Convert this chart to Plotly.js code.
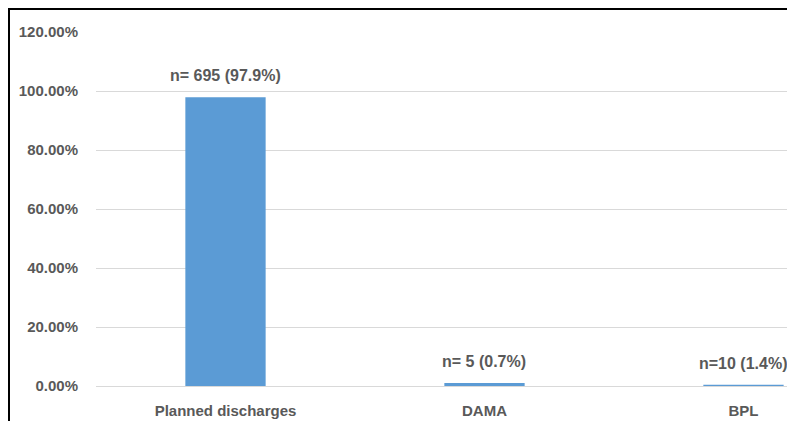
<!DOCTYPE html>
<html><head><meta charset="utf-8">
<script src="https://cdn.plot.ly/plotly-3.0.1.min.js"></script>
<style>
html,body{margin:0;padding:0;background:#fff;}
#wrap{position:relative;width:787px;height:421px;overflow:hidden;}
#chart{position:absolute;left:0;top:0;width:787px;height:421px;}
#frame{position:absolute;left:8px;top:8px;width:800px;height:430px;border-left:2px solid #000;border-top:2px solid #000;pointer-events:none;}
</style></head>
<body><div id="wrap"><div id="chart"></div><div id="frame"></div></div>
<script>
const categories = ["Planned discharges", "DAMA", "BPL"];
const values = [97.9, 1.0, 0.4];
const labels = ["n= 695 (97.9%)", "n= 5 (0.7%)", "n=10 (1.4%)"];
const yTicks = [0, 20, 40, 60, 80, 100, 120];
const yTickText = ["0.00%", "20.00%", "40.00%", "60.00%", "80.00%", "100.00%", "120.00%"];

const fam = "Liberation Sans, Arial, sans-serif";
const txtColor = "#595959";

const trace = {
  type: "bar", x: categories, y: values,
  marker: {color: "#5B9BD5"},
  width: 0.31,
  hoverinfo: "none"
};
const annotations = categories.map((c, i) => ({
  x: c, y: values[i], xref: "x", yref: "y",
  text: "<b>" + labels[i] + "</b>", showarrow: false,
  yanchor: "bottom", yshift: 11,
  font: {family: fam, size: 16, color: txtColor}
}));
const layout = {
  width: 787, height: 421,
  margin: {l: 96, r: 0, t: 32, b: 35},
  paper_bgcolor: "#fff", plot_bgcolor: "#fff",
  showlegend: false,
  xaxis: {
    type: "category", range: [-0.5, 2.168],
    showgrid: false, zeroline: false, showline: false,
    ticks: "outside", ticklen: 11, tickcolor: "rgba(0,0,0,0)",
    tickfont: {family: fam, size: 15, color: txtColor, weight: "bold"}
  },
  yaxis: {
    range: [0, 120], tickvals: yTicks, ticktext: yTickText,
    showgrid: true, gridcolor: "#D9D9D9", gridwidth: 1,
    zeroline: true, zerolinecolor: "#D9D9D9", zerolinewidth: 1,
    showline: false, ticks: "outside", ticklen: 14, tickcolor: "rgba(0,0,0,0)",
    tickfont: {family: fam, size: 15, color: txtColor, weight: "bold"}
  },
  annotations: annotations
};
Plotly.newPlot("chart", [trace], layout, {displayModeBar: false, staticPlot: true});
</script></body></html>
